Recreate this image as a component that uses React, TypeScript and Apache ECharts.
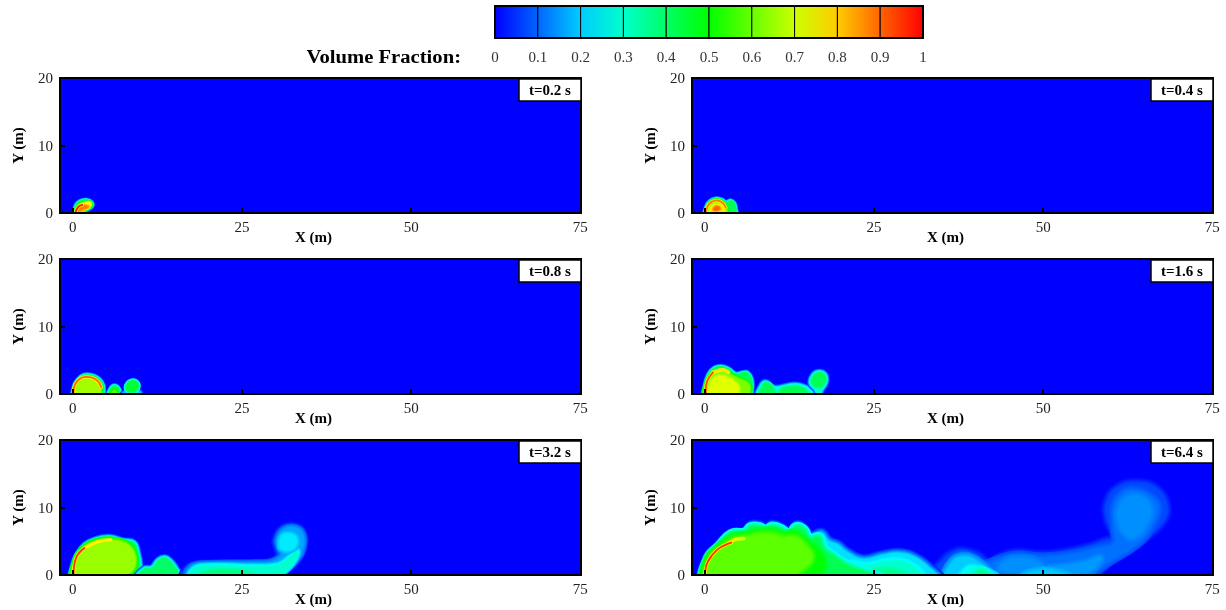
import React, { useEffect, useRef } from "react";
import * as echarts from "echarts";

type Pt = [number, number];
type Contour = [number, number, Pt[]];
type Front = [number, Pt[]];

const xTicks = [0, 25, 50, 75];
const colorbarStops = [0, 0.1, 0.2, 0.3, 0.4, 0.5, 0.6, 0.7, 0.8, 0.9, 1];
const panelTimes = ["t=0.2 s", "t=0.4 s", "t=0.8 s", "t=1.6 s", "t=3.2 s", "t=6.4 s"];

// contour: [level inside, level the edge fades from, outline in metres]
const contours02: Contour[] = [
  [0.42, 0, [[0.15, -0.5], [0.35, 1.1], [1, 1.8], [2, 2], [2.8, 1.65], [2.9, 1], [2.1, 0.45], [1.2, 0.1], [0.7, -0.5]]],
  [0.75, 0.42, [[0.6, 0.4], [1, 1.2], [1.8, 1.55], [2.6, 1.6], [2.6, 1], [1.8, 0.6]]],
  [0.88, 0.75, [[0.7, 0.3], [1.1, 0.95], [1.9, 1.1], [2.3, 0.9], [1.6, 0.6], [1, 0.3]]],
];
const fronts02: Front[] = [[0.98, [[0.35, 0], [0.8, 0.9], [1.4, 1.2]]]];

const contours04: Contour[] = [
  [0.42, 0, [[0.1, -0.5], [0.15, 1], [0.7, 1.8], [1.6, 2.2], [2.6, 2], [3.1, 1.65], [3.8, 1.9], [4.4, 1.5], [4.6, 0.8], [4.6, -0.5]]],
  [0.62, 0.42, [[0.3, -0.5], [0.3, 0.9], [1, 1.7], [1.9, 1.9], [2.8, 1.5], [3.2, 0.7], [3.3, -0.5]]],
  [0.78, 0.62, [[0.9, -0.5], [0.9, 0.7], [1.4, 1.15], [2.2, 1.15], [2.7, 0.6], [2.7, -0.5]]],
  [0.9, 0.78, [[1.3, 0.5], [1.7, 0.95], [2.2, 0.7], [1.9, 0.45]]],
];
const fronts04: Front[] = [[0.88, [[0.15, 0], [0.4, 1], [1, 1.65], [1.9, 1.85], [2.7, 1.45], [3.1, 0.8]]]];

const contours08: Contour[] = [
  [0.42, 0, [[0.15, -0.5], [0.15, 1.2], [0.7, 2.2], [1.6, 2.85], [2.7, 2.85], [3.6, 2.5], [4.3, 1.8], [4.6, 0.9], [4.2, -0.5]]],
  [0.66, 0.42, [[0.25, -0.5], [0.35, 1.2], [1.2, 2.2], [2.5, 2.3], [3.6, 1.8], [4.1, 0.8], [3.8, -0.5]]],
  [0.42, 0, [[5.2, -0.5], [5.5, 0.8], [6.2, 1.3], [6.9, 0.7], [7, -0.5]]],
  [0.58, 0.42, [[5.6, -0.5], [6.1, 0.6], [6.7, -0.5]]],
  [0.2, 0, [[7.2, -0.5], [7.7, 0.4], [9.9, 0.4], [10, -0.5]]],
  [0.45, 0.2, [[7.9, 0.7], [8.1, 1.6], [8.9, 2], [9.6, 1.6], [9.6, 0.8], [8.9, 0.3]]],
];
const fronts08: Front[] = [[0.9, [[0.1, 0], [0.3, 1.4], [1.3, 2.4], [2.7, 2.45], [3.7, 1.9], [4.2, 1]]]];

const contours16: Contour[] = [
  [0.42, 0, [[0, -0.5], [0, 1.2], [0.5, 2.9], [1.4, 3.9], [2.5, 4.1], [3.6, 3.7], [4.6, 3], [5.6, 3.2], [6.3, 3.2], [6.9, 2.3], [7, 0.9], [6.5, -0.5]]],
  [0.62, 0.42, [[0.2, -0.5], [0.2, 1.6], [1.1, 3], [2.5, 3.4], [3.6, 3], [5, 2.3], [6.4, 1.6], [6.7, 0.7], [6.2, -0.5]]],
  [0.72, 0.62, [[0.8, -0.5], [0.9, 1.6], [2, 2.7], [3.4, 2.4], [4.8, 1.4], [5, 0.4], [4.5, -0.5]]],
  [0.28, 0, [[7.8, -0.5], [8.2, 1.3], [9, 1.9], [10.2, 1.1], [11.5, 1.2], [13, 1.5], [14.5, 1.3], [16, 0.5], [16.6, -0.5]]],
  [0.42, 0.28, [[8.2, -0.5], [8.5, 1], [9.1, 1.6], [10, 0.9], [10.4, -0.5]]],
  [0.42, 0.28, [[11, -0.5], [11.3, 0.7], [12.5, 1], [14, 1], [15, 0.3], [15, -0.5]]],
  [0.3, 0, [[15.5, 1.6], [15.9, 2.9], [16.9, 3.4], [17.9, 2.9], [18, 1.7], [17.3, 0.5], [16.8, -0.5], [16.3, 0.6]]],
  [0.42, 0.3, [[15.9, 1.7], [16.2, 2.7], [17, 3.1], [17.7, 2.6], [17.6, 1.7], [16.9, 1.1]]],
];
const fronts16: Front[] = [
  [0.78, [[1.2, 3.2], [2.6, 3.6], [3.5, 3.2]]],
  [0.93, [[0.15, 0], [0.3, 1.8], [1.2, 3.2]]],
];

const contours32: Contour[] = [
  [0.42, 0, [[0.1, -0.5], [0.1, 1.6], [0.8, 3.2], [1.8, 4.5], [3.4, 5.3], [5.4, 5.6], [7.4, 5.1], [9, 4.8], [9.6, 3.3], [9.9, 1.5], [9.6, -0.5]]],
  [0.4, 0, [[9.5, -0.5], [10.5, 0.9], [11.7, 1.1], [12.6, 2.2], [13.6, 2.6], [14.5, 2], [15.3, 0.9], [16, -0.5]]],
  [0.65, 0.42, [[0.25, -0.5], [0.35, 2], [1.5, 3.9], [3.5, 5], [5.8, 5.2], [7.8, 4.7], [9, 3.4], [9.2, 1.5], [8.4, 0.3], [7.5, -0.5]]],
  [0.08, 0, [[16.4, -0.5], [17.2, 1.4], [20, 1.8], [27, 1.9], [29.2, 2.1], [30.3, 2.9], [30.1, 3.7], [29.8, 5.2], [31, 7.1], [33, 7.3], [34.2, 6.2], [34.2, 4], [33.3, 2.1], [31.4, 0.4], [30, -0.5]]],
  [0.16, 0.08, [[17, -0.5], [17.4, 1.2], [20, 1.7], [27, 1.8], [29.4, 2], [30.8, 2.9], [30.6, 3.8], [30.2, 5.2], [31.2, 6.8], [33, 7], [34, 6], [34, 4], [33, 2.2], [31.2, 0.6], [30, -0.5]]],
  [0.3, 0.16, [[17.4, -0.5], [17.8, 0.9], [20, 1.4], [27, 1.3], [30.3, 1.5], [32, 2.6], [33.2, 3.6], [32.6, 1.9], [31, 0.3], [29.5, -0.5]]],
  [0.23, 0.16, [[30.6, 4.2], [30.9, 5.8], [32, 6.1], [33, 5.5], [32.9, 4.2], [32, 3.7], [31.2, 3.7]]],
  [0.38, 0.3, [[19, -0.5], [19.6, 0.4], [24, 0.6], [26, 0.2], [27, -0.5]]],
];
const fronts32: Front[] = [
  [0.76, [[1.7, 4], [3.9, 5], [5.6, 5.2]]],
  [0.95, [[0.1, 0], [0.5, 2.6], [1.7, 4]]],
];

const contours64: Contour[] = [
  [0.07, 0, [[33.5, -0.5], [35, 2], [36.8, 3.4], [38.5, 3.6], [40.4, 3], [42, 1.8], [43.7, 2.8], [46, 3.4], [49.6, 3.1], [53, 3.4], [56.9, 4.3], [59.5, 5.2], [61, 5.5], [60.2, 6.6], [59.4, 8.3], [59.4, 10.8], [61, 13], [64, 13.7], [66.8, 12.8], [68.3, 10.3], [67.8, 8], [65.8, 6], [63.4, 4.2], [60, 2], [56.2, -0.5]]],
  [0.11, 0.07, [[36.5, -0.5], [37, 2.5], [38.5, 3], [41, 1.6], [43.5, 2.3], [46, 2.9], [50, 2.6], [54, 3], [58, 3.9], [60.5, 4.7], [60.5, 7], [60.5, 10.3], [62, 12.3], [64, 12.5], [66, 11.6], [67, 10], [66.4, 8], [64.5, 5.2], [60, 2.2], [55, -0.5]]],
  [0.14, 0.11, [[61.2, 7.8], [61.3, 10.2], [62.6, 11.6], [64.4, 11.6], [65.8, 10.2], [65.5, 8], [63.5, 5.6], [62.2, 6]]],
  [0.15, 0.11, [[45, -0.5], [48, 0.8], [52, 1.2], [56, 1.8], [58.5, 2.6], [57, 0.6], [54, -0.5]]],
  [0.14, 0.11, [[43.6, 0.8], [44.6, 2.1], [46.5, 2.4], [49, 2], [50, 0.8], [47, 0.4]]],
  [0.2, 0.11, [[35.8, -0.5], [36.6, 2], [38.5, 2.7], [40.4, 1.9], [42, 0.6], [42.6, -0.5]]],
  [0.27, 0.2, [[38, -0.5], [39, 1], [40, 1], [41.5, 0.5], [43, -0.5]]],
  [0.36, 0.27, [[39.8, -0.5], [40.5, 0.5], [41.5, 0.3], [41.8, -0.5]]],
  [0.2, 0.15, [[47, -0.5], [48.5, 0.4], [52, 0.4], [54, -0.5]]],
  [0.22, 0, [[0.1, -0.5], [0.3, 2.5], [2, 4.4], [3.9, 6.2], [5.9, 6.4], [6.8, 7.4], [8.1, 7.4], [9, 6.9], [10, 7.5], [11.6, 6.9], [12.5, 6.2], [13.5, 7.4], [14.7, 6.9], [15.5, 5.7], [17.2, 6.3], [18.3, 5.1], [19.7, 4.5], [20.9, 3.5], [23.3, 2.4], [26.3, 3], [28.8, 3.3], [31.2, 2.6], [33.2, 1.1], [34.5, -0.5]]],
  [0.3, 0.22, [[20, -0.5], [21, 1.5], [24, 1.3], [27, 1.9], [29, 1.9], [31, 1], [32, -0.5]]],
  [0.37, 0.3, [[23, -0.5], [25, 0.4], [28, 0.5], [30, -0.5]]],
  [0.42, 0.22, [[0.2, -0.5], [0.4, 2.4], [2.1, 4.3], [3.9, 6.1], [5.9, 6.3], [6.8, 7.1], [8.1, 7.1], [9, 6.6], [10, 7.2], [11.6, 6.6], [12.5, 5.9], [13.5, 7.1], [14.7, 6.6], [15.4, 5.3], [16.8, 5.6], [17.5, 4], [19, 2.8], [21, 1.5], [23.5, 0.5], [26, -0.5]]],
  [0.5, 0.42, [[0.3, -0.5], [0.4, 2.2], [2, 4], [4, 5.6], [6, 5.9], [8, 6.4], [10, 6.5], [11.8, 6], [13.3, 6.2], [15, 5], [17, 3.2], [17.5, 1.2], [16, -0.5]]],
  [0.59, 0.5, [[0.6, -0.5], [0.7, 2.2], [2.2, 3.8], [4, 5.2], [6, 5.6], [8, 6], [10, 6], [11.8, 5.5], [13.3, 5.6], [14.8, 4.4], [15.8, 2.6], [14.5, 1], [12, -0.5]]],
];
const fronts64: Front[] = [
  [0.72, [[3.6, 4.8], [4.6, 5.3], [5.8, 5.4]]],
  [0.95, [[0, 0], [0.45, 2], [1.9, 3.8], [3.9, 4.8]]],
];

const panelContours = [contours02, contours04, contours08, contours16, contours32, contours64];
const panelFronts = [fronts02, fronts04, fronts08, fronts16, fronts32, fronts64];

const panelSoftness = [2, 2, 2.2, 2.5, 3.5, 5];
const SERIF = '"Liberation Serif", "Times New Roman", serif';
const GRID_W = 521;
const GRID_H = 135;
const GRID_LEFT = [60, 692];
const GRID_TOP = [78, 259, 440];

const mix = (a: number, b: number, t: number) => Math.round(a + (b - a) * t);
const rampStops = [[0, 0, 255], [0, 255, 255], [0, 255, 0], [255, 255, 0], [255, 0, 0]];
const ramp = (v: number) => {
  const s = Math.min(3.9999, Math.max(0, v * 4));
  const i = Math.floor(s);
  const t = s - i;
  const [a, b] = [rampStops[i], rampStops[i + 1]];
  return `rgb(${mix(a[0], b[0], t)},${mix(a[1], b[1], t)},${mix(a[2], b[2], t)})`;
};

const panelRender = (panel: number) => (params: any, api: any) => {
  const contours = panelContours[panel];
  const fronts = panelFronts[panel];
  const soft = panelSoftness[panel];
  const i = params.dataIndex;
  const children: any[] = [];
  if (i === 0) {
    const c = params.coordSys;
    children.push({ type: "rect", shape: { x: c.x, y: c.y, width: c.width, height: c.height }, style: { fill: ramp(0) }, silent: true });
  }
  if (i < contours.length) {
    const [v, from, pts] = contours[i];
    const points = pts.map((p) => api.coord(p));
    const steps = 6;
    for (let k = steps; k >= 0; k--) {
      const t = k / (steps + 1);
      const col = ramp(from + (v - from) * (1 - t));
      children.push({
        type: "polygon",
        shape: { points, smooth: 0.45 },
        style: { fill: col, stroke: k ? col : "none", lineWidth: (2 * soft * k) / steps, lineJoin: "round" },
        silent: true,
      });
    }
  } else {
    const [v, pts] = fronts[i - contours.length];
    const points = pts.map((p) => api.coord(p));
    children.push({ type: "polyline", shape: { points, smooth: 0.4 }, style: { fill: "none", stroke: ramp(0.76), lineWidth: 3.4, lineCap: "round" }, silent: true });
    children.push({ type: "polyline", shape: { points, smooth: 0.4 }, style: { fill: "none", stroke: ramp(v), lineWidth: 1.8, lineCap: "round" }, silent: true });
  }
  return { type: "group", children };
};

const colorbarRender = (params: any, api: any) => {
  const i = params.dataIndex;
  const a = colorbarStops[i];
  const b = colorbarStops[i + 1];
  const p0 = api.coord([a, 1]);
  const p1 = api.coord([b, 0]);
  return {
    type: "rect",
    shape: { x: p0[0], y: p0[1], width: p1[0] - p0[0], height: p1[1] - p0[1] },
    style: {
      fill: new echarts.graphic.LinearGradient(0, 0, 1, 0, [
        { offset: 0, color: ramp(a) },
        { offset: 1, color: ramp(b) },
      ]),
      stroke: "#000",
      lineWidth: 1,
    },
    silent: true,
  };
};

export default function App() {
  const ref = useRef<HTMLDivElement>(null);
  useEffect(() => {
    const chart = echarts.init(ref.current!, undefined, { renderer: "svg" });
    const grids: any[] = [];
    const xAxes: any[] = [];
    const yAxes: any[] = [];
    const series: any[] = [];
    const graphics: any[] = [];
    const tickFont = { fontFamily: SERIF, fontSize: 15, color: "#222" };
    const nameFont = { fontFamily: SERIF, fontSize: 15, fontWeight: "bold", color: "#000" };
    panelTimes.forEach((time, p) => {
      const left = GRID_LEFT[p % 2];
      const top = GRID_TOP[Math.floor(p / 2)];
      grids.push({ left, top, width: GRID_W, height: GRID_H, show: true, z: 4, backgroundColor: "transparent", borderColor: "#000", borderWidth: 2 });
      xAxes.push({
        gridIndex: p,
        type: "value",
        min: -1.9,
        max: 75.1,
        z: 5,
        name: "X (m)",
        nameLocation: "middle",
        nameGap: 16,
        nameMoveOverlap: false,
        nameTextStyle: { ...nameFont, padding: [0, 14, 0, 0] },
        axisLine: { show: true, onZero: false, lineStyle: { color: "#000", width: 2 } },
        axisTick: { show: true, inside: true, length: 5, customValues: xTicks, lineStyle: { color: "#000", width: 2 } },
        axisLabel: { ...tickFont, margin: 6, customValues: xTicks, showMinLabel: true, showMaxLabel: true },
        splitLine: { show: false },
      });
      yAxes.push({
        gridIndex: p,
        type: "value",
        min: 0,
        max: 20,
        interval: 10,
        z: 5,
        name: "Y (m)",
        nameLocation: "middle",
        nameGap: 35,
        nameTextStyle: nameFont,
        axisLine: { show: true, onZero: false, lineStyle: { color: "#000", width: 2 } },
        axisTick: { show: true, inside: true, length: 5, lineStyle: { color: "#000", width: 2 } },
        axisLabel: { ...tickFont, margin: 7 },
        splitLine: { show: false },
      });
      const count = panelContours[p].length + panelFronts[p].length;
      series.push({
        type: "custom",
        xAxisIndex: p,
        yAxisIndex: p,
        clip: true,
        z: 2,
        silent: true,
        renderItem: panelRender(p),
        data: Array.from({ length: count }, (_, i) => [i]),
        encode: { x: [], y: [] },
      });
      const right = left + GRID_W;
      graphics.push({ type: "rect", z: 20, shape: { x: right - 62, y: top + 1, width: 62, height: 22 }, style: { fill: "#fff", stroke: "#000", lineWidth: 1.5 } });
      graphics.push({ type: "text", z: 21, x: right - 31, y: top + 12, style: { text: time, fill: "#000", font: `bold 15px ${SERIF}`, textAlign: "center", textVerticalAlign: "middle" } });
    });
    grids.push({ left: 495, top: 6, width: 428, height: 32, show: true, z: 4, backgroundColor: "transparent", borderColor: "#000", borderWidth: 2 });
    xAxes.push({
      gridIndex: 6,
      type: "value",
      min: 0,
      max: 1,
      interval: 0.1,
      axisLine: { show: false },
      axisTick: { show: false },
      splitLine: { show: false },
      axisLabel: { ...tickFont, color: "#333", margin: 11, showMinLabel: true, showMaxLabel: true },
    });
    yAxes.push({ gridIndex: 6, type: "value", min: 0, max: 1, show: false });
    series.push({
      type: "custom",
      xAxisIndex: 6,
      yAxisIndex: 6,
      silent: true,
      z: 2,
      renderItem: colorbarRender,
      data: colorbarStops.slice(0, -1).map((_, i) => [i]),
      encode: { x: [], y: [] },
    });
    graphics.push({ type: "text", z: 21, x: 461, y: 57, scaleX: 1.16, style: { text: "Volume Fraction:", fill: "#000", font: `bold 17.8px ${SERIF}`, textAlign: "right", textVerticalAlign: "middle" } });
    chart.setOption({
      animation: false,
      backgroundColor: "#fff",
      grid: grids,
      xAxis: xAxes,
      yAxis: yAxes,
      series,
      graphic: graphics,
    });
    return () => chart.dispose();
  }, []);
  return <div ref={ref} style={{ position: "absolute", left: 0, top: 0, width: 1226, height: 610, filter: "blur(0.6px)" }} />;
}
